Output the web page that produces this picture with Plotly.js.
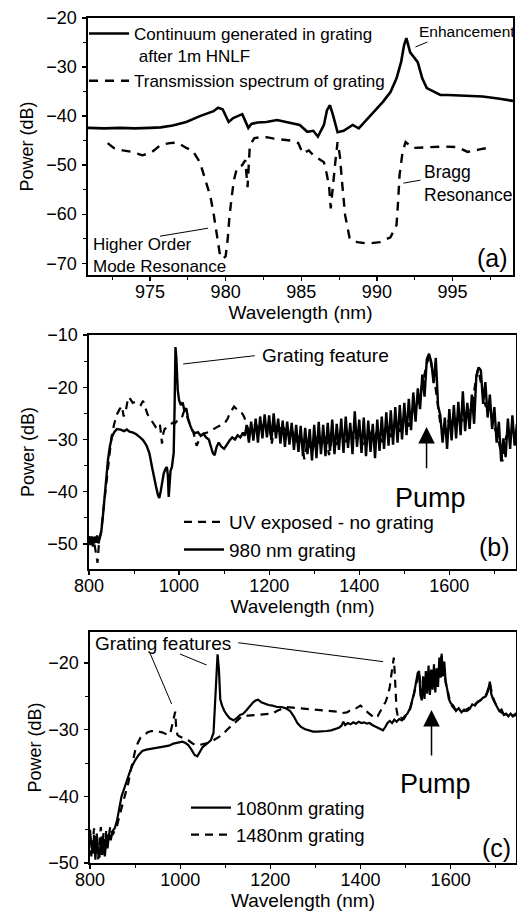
<!DOCTYPE html>
<html>
<head>
<meta charset="utf-8">
<script src="https://cdn.plot.ly/plotly-3.0.1.min.js"></script>
<style>html,body{margin:0;padding:0;background:#fff;}#chart{width:517px;height:913px;}</style>
</head>
<body>
<div id="chart"></div>
<script>
// ---------- Panel (a) ----------
var a_wl_cont = [970.9,972,973,974,975,975.7,976.5,977.4,978.3,979.2,
979.5,979.8,980.2,980.5,980.8,981.1,981.5,981.7,982.1,982.7,
983.4,984.3,984.9,985.4,985.8,986.1,986.5,986.7,986.9,987.1,
987.4,987.8,988.4,988.8,989.4,990,990.4,990.9,991.3,991.6,
991.8,991.95,992.2,992.7,993,993.3,993.7,994.2,994.7,995.5,
996.3,997,998,999];
var a_pow_cont = [-42.4,-42.5,-42.4,-42.5,-42.4,-42.3,-41.9,-41.2,-40.0,-39.0,
-38.3,-38.6,-41.2,-40.4,-40.0,-39.6,-42.4,-41.6,-41.3,-41.2,
-40.8,-41.4,-41.8,-43.2,-43.0,-44.2,-41.8,-38.8,-37.8,-39.8,
-43.3,-43.0,-41.8,-42.5,-40.4,-38.4,-37.1,-35.1,-32.3,-29.0,
-25.5,-24.1,-27.0,-29.0,-32.3,-34.3,-35.0,-35.7,-35.7,-35.8,
-36.0,-36.0,-36.4,-36.9];
var a_wl_trans = [972.2,972.6,973.2,973.8,974.5,975.1,975.7,976.3,976.8,977.4,
977.8,978.3,978.6,979.0,979.2,979.45,979.65,979.85,980.0,980.15,
980.25,980.4,980.55,980.75,981.1,981.3,981.45,981.6,981.9,982.3,
982.7,983.2,983.8,984.3,984.8,985.1,985.5,985.8,986.1,986.5,
986.7,986.85,986.95,987.1,987.25,987.4,987.55,987.7,987.9,988.2,
988.7,989.4,990.2,990.9,991.3,991.4,991.5,991.7,991.9,992.4,
993.3,994.4,995.3,996,996.8,997.3];
var a_pow_trans = [-45.5,-46.5,-47.0,-47.3,-48.0,-47.4,-45.9,-45.5,-45.4,-46.5,
-47.0,-49.4,-52.4,-56.5,-59.8,-64.7,-68.8,-69.0,-68.6,-64.7,
-60.6,-56.5,-53.0,-50.6,-50.0,-49.0,-54.5,-46.0,-44.5,-44.3,
-44.3,-44.6,-44.9,-45.0,-45.5,-47.6,-47.0,-48.0,-48.6,-49.4,
-52.0,-54.7,-58.8,-53.6,-49.4,-45.3,-48.0,-53.5,-60.2,-64.9,
-65.7,-66.0,-65.7,-64.7,-62.2,-57.6,-52.0,-47.3,-45.3,-46.5,
-46.3,-46.2,-46.3,-47.3,-46.8,-46.5];

// ---------- Panel (b) ----------
var b_wl_uv = [800,806,812,816,819,822,827,832,838,844,
850,856,862,868,873,877,882,887,892,897,
903,909,915,920,925,930,936,942,948,953,
957,960,962,965,968,974,980,986,991,996,
1001,1006,1010,1013,1017,1021,1026,1031,1035,1039,
1043,1050,1057,1065,1073,1080,1087,1094,1101,1108,
1113,1117,1122,1128,1134,1140,1145,1150,1155,
1160,1170,1180,1190,1200,1206,1212,1220,1230,1240,
1250,1260,1270,1278,1286,1295,1305,1315,1325,1333,
1340,1350,1360,1370,1380,1390,1400,1410,1420,1430,
1440,1450,1460,1470,1480,1490,1500,1510,1520,1530,
1540,1550,1556,1562,1570,1580,1590,1600,1610,1620,
1630,1640,1650,1658,1664,1672,1680,1690,1700,1710,
1718,1726,1735,1745];
var b_pow_uv = [-49.5,-48.6,-50.0,-52.0,-53.6,-50.0,-47.5,-43.5,-38.5,-33.5,
-29.5,-27.0,-25.2,-24.2,-23.6,-25.6,-24.4,-21.9,-22.3,-23.0,
-22.8,-22.9,-23.4,-22.6,-24.0,-25.2,-26.0,-26.8,-27.6,-27.2,
-26.9,-29.0,-30.8,-28.8,-28.0,-27.6,-27.2,-26.8,-26.9,-26.4,
-26.2,-25.9,-24.8,-24.4,-25.5,-26.6,-27.6,-28.4,-30.1,-31.2,
-30.4,-29.2,-28.8,-28.6,-28.2,-27.8,-27.5,-27.2,-26.9,-26.0,
-24.8,-24.4,-23.7,-24.2,-24.8,-25.0,-25.8,-27.2,-28.4,
-28.0,-27.0,-28.5,-26.8,-27.5,-30.8,-27.0,-28.5,-27.2,-29.0,
-28.0,-30.5,-29.0,-33.8,-30.0,-32.5,-29.5,-31.5,-29.0,-33.0,
-29.5,-31.0,-28.5,-30.5,-28.0,-30.0,-28.5,-31.5,-28.0,-30.0,
-28.5,-30.5,-27.5,-29.5,-26.5,-28.5,-25.5,-27.5,-24.0,-23.0,
-19.5,-15.5,-13.8,-16.5,-20.5,-27.0,-28.5,-26.0,-27.5,-25.0,
-26.5,-24.5,-24.0,-19.0,-16.5,-20.0,-23.5,-24.5,-27.5,-30.5,
-34.2,-29.5,-28.0,-29.0];
var b_wl_980 = [800,803,806,809,812,815,818,821,824,827,
830,834,838,842,846,851,856,862,870,878,
884,890,898,905,912,920,928,934,940,945,
949,953,956,959,962,966,970,973,975,977,
979,981,984,986,988,990,992,994,997,
1000,1004,1008,1012,1016,1020,1025,1030,1036,1042,
1048,1054,1060,1066,1070,1075,1079,1083,1088,1094,
1100,1106,1112,1118,1124,1130,1136,1142,1146,
1150,1155,1160,1165,1170,1175,1180,1185,1190,1195,
1200,1205,1210,1215,1220,1225,1230,1235,1240,1245,
1250,1255,1260,1265,1270,1275,1280,1285,1290,1295,
1300,1305,1310,1315,1320,1325,1330,1335,1340,1345,
1350,1355,1360,1365,1370,1375,1380,1385,1390,1395,
1400,1405,1410,1415,1420,1425,1430,1435,1440,1445,
1450,1455,1460,1465,1470,1475,1480,1485,1490,1495,
1500,1505,1510,1515,1520,1525,1530,1535,1540,1545,
1550,1555,1560,1565,1570,1575,1580,1585,1590,1595,
1600,1605,1610,1615,1620,1625,1630,1635,1640,1645,
1650,1655,1660,1665,1670,1675,1680,1685,1690,1695,
1700,1705,1710,1715,1720,1725,1730,1735,1740,1745,
1750];
var b_pow_980 = [-48.5,-50.2,-48.8,-50.5,-48.6,-49.8,-48.4,-49.9,-48.7,-47.8,
-45.5,-41.5,-37.5,-34.0,-31.5,-29.5,-28.6,-28.0,-28.1,-28.4,
-28.1,-28.5,-28.7,-29.0,-29.5,-30.1,-31.2,-32.6,-35.3,-37.8,
-39.1,-40.6,-41.2,-40.0,-38.3,-36.5,-35.6,-35.3,-36.8,-41.0,
-38.5,-36.0,-35.3,-34.2,-32.6,-24.0,-12.3,-14.5,-20.5,
-22.5,-23.4,-22.9,-24.6,-24.0,-26.0,-27.4,-28.4,-28.8,-28.6,
-29.3,-28.9,-29.6,-30.0,-31.2,-32.6,-33.0,-31.5,-30.6,-31.4,
-31.8,-30.9,-30.2,-29.6,-30.0,-29.2,-29.6,-28.7,-29.3,
-27.2,-30.6,-26.6,-30.2,-26.0,-30.6,-25.6,-29.8,-25.2,-29.6,
-25.4,-30.2,-25.0,-29.8,-26.0,-30.8,-26.4,-31.4,-26.6,-31.0,
-26.8,-32.0,-27.2,-32.4,-27.4,-33.2,-27.8,-32.8,-28.0,-34.0,
-27.2,-33.6,-26.6,-32.8,-27.2,-33.2,-26.8,-32.2,-26.2,-32.8,
-27.0,-32.0,-26.0,-32.6,-25.6,-31.6,-26.8,-32.8,-24.6,-31.4,
-26.2,-32.6,-25.8,-33.2,-26.4,-32.4,-27.0,-33.6,-26.2,-32.2,
-25.6,-31.8,-24.8,-31.2,-24.4,-31.0,-23.8,-30.6,-23.4,-30.0,
-23.0,-29.2,-22.2,-28.2,-21.0,-26.6,-20.2,-24.2,-17.6,-21.8,
-14.6,-13.6,-15.2,-19.2,-14.4,-23.6,-25.4,-30.6,-25.8,-31.8,
-24.2,-30.2,-23.4,-29.8,-22.8,-29.2,-20.8,-28.4,-23.0,-28.0,
-21.4,-27.0,-17.8,-16.2,-16.8,-23.2,-19.0,-25.8,-21.4,-28.0,
-23.8,-30.6,-26.6,-34.2,-29.8,-33.4,-26.0,-31.8,-25.4,-31.2,
-27.0];

// ---------- Panel (c) ----------
var c_wl_1080 = [800,803,806,809,812,815,818,821,824,827,
830,833,836,839,842,846,850,855,860,865,
870,876,882,888,894,900,908,916,925,935,
945,955,965,975,985,995,1005,1012,1018,1025,
1032,1038,1044,1050,1056,1062,1068,1074,1077,1080,
1083,1086,1089,1093,1098,1104,1110,1118,1125,1133,
1140,1148,1155,1162,1168,1173,1180,1188,1196,1205,
1215,1225,1235,1244,1252,1260,1268,1276,1285,1295,
1305,1315,1325,1335,1345,1352,1358,1362,1366,1372,
1378,1384,1390,1396,1402,1408,1414,1420,1426,1432,
1438,1444,1450,1455,1460,1465,1470,1475,1480,1486,
1492,1498,1504,1510,1515,1519,1523,1527,1530,1533,
1536,1539,1542,1545,1548,1551,1554,1557,1560,1563,
1566,1569,1572,1575,1578,1580,1583,1586,1589,1592,
1596,1600,1606,1612,1618,1624,1630,1636,1642,1648,
1654,1660,1666,1672,1678,1683,1687,1690,1694,1698,
1703,1708,1713,1718,1723,1728,1733,1738,1744,1750];
var c_pow_1080 = [-45.0,-47.5,-48.6,-45.8,-49.5,-46.0,-48.2,-49.2,-46.5,-48.8,
-47.2,-49.0,-46.4,-47.8,-45.6,-46.6,-45.2,-44.8,-43.6,-41.8,
-40.0,-38.8,-37.4,-36.4,-35.4,-34.6,-33.8,-33.2,-33.0,-32.9,
-32.8,-32.7,-32.5,-32.4,-32.1,-32.0,-31.8,-32.0,-32.3,-33.0,
-33.8,-34.0,-33.4,-32.6,-32.3,-32.0,-31.6,-30.5,-26.5,-21.5,
-18.7,-21.0,-25.5,-26.4,-27.2,-27.8,-28.3,-28.6,-28.3,-27.8,
-27.6,-27.0,-26.4,-25.9,-25.6,-25.5,-25.9,-26.1,-26.3,-26.4,
-26.6,-26.6,-26.8,-27.2,-28.0,-29.0,-29.6,-29.9,-30.1,-30.3,
-30.3,-30.3,-30.2,-30.1,-29.9,-29.7,-29.4,-28.8,-29.3,-29.0,
-29.2,-28.9,-29.1,-28.8,-29.0,-28.9,-29.1,-29.0,-29.3,-29.5,
-29.6,-29.8,-30.1,-29.6,-29.0,-28.7,-29.0,-28.5,-28.8,-28.4,
-28.6,-28.0,-27.6,-26.8,-25.5,-24.5,-23.0,-21.5,-21.2,-24.8,
-25.6,-22.0,-25.4,-21.2,-24.6,-20.4,-24.8,-21.0,-24.0,-20.2,
-24.4,-20.8,-23.6,-19.2,-22.2,-18.6,-22.0,-19.8,-23.0,-23.8,
-25.4,-26.0,-26.4,-27.2,-26.8,-27.4,-27.0,-27.2,-26.9,-26.2,
-26.4,-25.8,-25.6,-25.2,-25.0,-24.2,-22.8,-24.6,-25.4,-26.0,
-26.6,-27.2,-27.0,-27.8,-27.6,-28.0,-27.6,-28.0,-27.6,-27.7];
var c_wl_1480 = [800,803,806,809,812,815,818,821,824,827,
830,833,836,840,845,850,855,860,865,870,
875,880,885,890,895,900,906,912,920,928,
936,944,952,960,968,974,978,982,986,989,
991,994,998,1004,1010,1018,1026,1033,1042,1051,
1061,1071,1082,1093,1104,1115,1126,1137,1150,1166,
1185,1203,1218,1233,1250,1270,1290,1310,1330,1350,
1360,1370,1380,1390,1400,1408,1416,1424,1432,1438,
1444,1450,1456,1461,1465,1468,1471,1474,1476,1478,
1480,1484,1490,1496,1502,1510,1515,1520,1525,1530,
1535,1540,1545,1550,1555,1560,1565,1570,1575,1580,
1585,1590,1595,1600,1610,1620,1630,1640,1650,1660,
1670,1680,1687,1693,1700,1710,1720,1730,1740,1750];
var c_pow_1480 = [-46.0,-49.0,-47.2,-44.8,-48.0,-45.6,-49.5,-47.0,-44.6,-47.4,
-45.5,-48.5,-45.0,-46.8,-44.5,-45.8,-45.0,-44.4,-43.0,-41.8,
-40.6,-39.4,-38.0,-36.2,-34.4,-33.2,-32.0,-31.2,-30.8,-30.4,
-30.2,-30.2,-30.3,-30.4,-30.6,-30.8,-30.6,-29.2,-28.2,-27.3,
-29.5,-30.8,-31.0,-31.2,-31.3,-31.6,-32.0,-32.3,-32.3,-32.2,
-32.0,-31.7,-31.3,-30.8,-30.0,-29.3,-28.6,-28.0,-27.9,-27.8,
-27.7,-27.6,-27.1,-26.6,-26.7,-26.8,-27.0,-27.1,-27.2,-27.3,
-27.5,-27.4,-27.0,-26.8,-26.4,-26.8,-27.4,-27.9,-28.3,-28.0,
-27.2,-26.5,-25.8,-24.8,-23.6,-22.0,-20.2,-19.2,-21.5,-24.5,
-27.0,-28.4,-28.2,-28.4,-27.8,-26.9,-25.7,-24.3,-22.6,-21.4,
-24.5,-22.8,-24.0,-21.5,-23.4,-21.0,-22.5,-21.8,-20.0,-19.0,
-21.5,-23.0,-25.0,-26.2,-27.0,-27.0,-27.2,-26.8,-26.3,-25.9,
-25.4,-24.6,-23.0,-25.0,-26.2,-27.3,-27.7,-27.8,-27.9,-27.7];

// ---------- Ticks ----------
var a_xticks = [975, 980, 985, 990, 995];
var a_yticks = [-70, -60, -50, -40, -30, -20];
var bc_xticks = [800, 1000, 1200, 1400, 1600];
var b_yticks = [-50, -40, -30, -20, -10];
var c_yticks = [-50, -40, -30, -20];

var FONT = 'Liberation Sans, Arial, Helvetica, sans-serif';
var W = 517, H = 913;
function px(x) { return x / W; }
function py(y) { return 1 - y / H; }

var traces = [
  {x: a_wl_cont, y: a_pow_cont, xaxis: 'x', yaxis: 'y', mode: 'lines', name: 'Continuum generated in grating<br>&nbsp;after 1m HNLF',
   line: {color: '#000', width: 2.6}, legend: 'legend'},
  {x: a_wl_trans, y: a_pow_trans, xaxis: 'x', yaxis: 'y', mode: 'lines', name: 'Transmission spectrum of grating',
   line: {color: '#000', width: 2.4, dash: '9px,7px'}, legend: 'legend'},
  {x: b_wl_uv, y: b_pow_uv, xaxis: 'x2', yaxis: 'y2', mode: 'lines', name: 'UV exposed - no grating',
   line: {color: '#000', width: 2.2, dash: '8px,6px'}, legend: 'legend2'},
  {x: b_wl_980, y: b_pow_980, xaxis: 'x2', yaxis: 'y2', mode: 'lines', name: '980 nm grating',
   line: {color: '#000', width: 2.4}, legend: 'legend2'},
  {x: c_wl_1080, y: c_pow_1080, xaxis: 'x3', yaxis: 'y3', mode: 'lines', name: '1080nm grating',
   line: {color: '#000', width: 2.2}, legend: 'legend3'},
  {x: c_wl_1480, y: c_pow_1480, xaxis: 'x3', yaxis: 'y3', mode: 'lines', name: '1480nm grating',
   line: {color: '#000', width: 2.2, dash: '8px,6px'}, legend: 'legend3'}
];

function xax(domain, range, tickvals, minorD, title, anchor, tstand) {
  return {domain: domain, range: range, anchor: anchor, tickmode: 'array', tickvals: tickvals,
    ticks: 'outside', ticklen: 4, tickwidth: 1.3, tickcolor: '#000',
    showline: true, linewidth: 1.6, linecolor: '#000', mirror: true,
    showgrid: false, zeroline: false, automargin: false,
    tickfont: {family: FONT, size: 18, color: '#000'}, ticklabelstandoff: -4,
    minor: {dtick: minorD, ticks: 'outside', ticklen: 3, tickwidth: 1, tickcolor: '#000', showgrid: false},
    title: {text: title, font: {family: FONT, size: 19, color: '#000'}, standoff: tstand}};
}
function yax(domain, range, tickvals, anchor, tstand) {
  return {domain: domain, range: range, anchor: anchor, tickmode: 'array', tickvals: tickvals,
    ticks: 'outside', ticklen: 4, tickwidth: 1.3, tickcolor: '#000',
    showline: true, linewidth: 1.6, linecolor: '#000', mirror: true,
    showgrid: false, zeroline: false, automargin: false,
    tickfont: {family: FONT, size: 18, color: '#000'}, ticklabelstandoff: 2,
    minor: {dtick: 5, ticks: 'outside', ticklen: 3, tickwidth: 1, tickcolor: '#000', showgrid: false},
    title: {text: 'Power (dB)', font: {family: FONT, size: 18, color: '#000'}, standoff: tstand}};
}
function topAx(over, anchor, range, tickvals, minorD) {
  return {overlaying: over, anchor: anchor, side: 'top', range: range, tickmode: 'array', tickvals: tickvals,
    ticks: 'inside', ticklen: 5, tickwidth: 1.3, tickcolor: '#000', showticklabels: false,
    showline: false, showgrid: false, zeroline: false,
    minor: {dtick: minorD, ticks: 'inside', ticklen: 3, tickwidth: 1, tickcolor: '#000', showgrid: false}};
}
function rightAx(over, anchor, range, tickvals) {
  return {overlaying: over, anchor: anchor, side: 'right', range: range, tickmode: 'array', tickvals: tickvals,
    ticks: 'inside', ticklen: 5, tickwidth: 1.3, tickcolor: '#000', showticklabels: false,
    showline: false, showgrid: false, zeroline: false,
    minor: {dtick: 5, ticks: 'inside', ticklen: 3, tickwidth: 1, tickcolor: '#000', showgrid: false}};
}

var aXR = [970.9, 999.0], aYR = [-72.4, -20];
var bXR = [800, 1748], bYR = [-54.8, -10];
var cXR = [800, 1745], cYR = [-50, -15.35];

var legendBase = {xanchor: 'left', yanchor: 'top', bgcolor: 'rgba(0,0,0,0)', borderwidth: 0,
  tracegroupgap: 0, valign: 'top', itemwidth: 40, itemclick: false, itemdoubleclick: false};

var layout = {
  width: W, height: H,
  margin: {l: 0, r: 0, t: 0, b: 0},
  paper_bgcolor: '#fff', plot_bgcolor: '#fff',
  font: {family: FONT, size: 18, color: '#000'},
  showlegend: true,
  xaxis: xax([px(88), px(513)], aXR, a_xticks, 2.5, 'Wavelength (nm)', 'y', 2),
  yaxis: yax([py(275), py(18)], aYR, a_yticks, 'x', 8),
  xaxis2: xax([px(89), px(516)], bXR, bc_xticks, 100, 'Wavelength (nm)', 'y2', 2),
  yaxis2: yax([py(569), py(335)], bYR, b_yticks, 'x2', 8),
  xaxis3: xax([px(90), px(516)], cXR, bc_xticks, 100, 'Wavelength (nm)', 'y3', 0),
  yaxis3: yax([py(863), py(632)], cYR, c_yticks, 'x3', 2),
  xaxis4: topAx('x', 'y', aXR, a_xticks, 2.5),
  yaxis4: rightAx('y', 'x', aYR, a_yticks),
  xaxis5: topAx('x2', 'y2', bXR, bc_xticks, 100),
  yaxis5: rightAx('y2', 'x2', bYR, b_yticks),
  xaxis6: topAx('x3', 'y3', cXR, bc_xticks, 100),
  yaxis6: rightAx('y3', 'x3', cYR, c_yticks),
  legend: Object.assign({}, legendBase, {x: px(84), y: py(16), font: {family: FONT, size: 17, color: '#000'}}),
  legend2: Object.assign({}, legendBase, {x: px(179), y: py(503), font: {family: FONT, size: 19, color: '#000'}}),
  legend3: Object.assign({}, legendBase, {x: px(186), y: py(789), font: {family: FONT, size: 18.5, color: '#000'}}),
  shapes: [
    // pointer lines (a)
    {type: 'line', xref: 'x', yref: 'y', x0: 993.34, y0: -24.9, x1: 992.55, y1: -25.9, line: {color: '#000', width: 1}},
    {type: 'line', xref: 'x', yref: 'y', x0: 992.88, y0: -53.06, x1: 991.75, y1: -53.67, line: {color: '#000', width: 1}},
    {type: 'line', xref: 'x', yref: 'y', x0: 975.66, y0: -64.49, x1: 978.84, y1: -62.86, line: {color: '#000', width: 1}},
    // pointer line (b)
    {type: 'line', xref: 'x2', yref: 'y2', x0: 1168, y0: -13.96, x1: 1009.1, y1: -15.55, line: {color: '#000', width: 1}},
    // pointer lines (c)
    {type: 'line', xref: 'x3', yref: 'y3', x0: 933, y0: -18.5, x1: 981.1, y1: -26.15, line: {color: '#000', width: 1}},
    {type: 'line', xref: 'x3', yref: 'y3', x0: 999.6, y0: -18.65, x1: 1058.7, y1: -20.3, line: {color: '#000', width: 1}},
    {type: 'line', xref: 'x3', yref: 'y3', x0: 1128.8, y0: -16.96, x1: 1450.3, y1: -19.8, line: {color: '#000', width: 1}}
  ],
  annotations: [
    {xref: 'x', yref: 'y', x: 992.68, y: -22.76, text: 'Enhancement', showarrow: false, xanchor: 'left', yanchor: 'middle', font: {family: FONT, size: 15.5, color: '#000'}},
    {xref: 'x', yref: 'y', x: 993.0, y: -53.67, text: 'Bragg<br>Resonance', align: 'left', showarrow: false, xanchor: 'left', yanchor: 'middle', font: {family: FONT, size: 17.5, color: '#000'}},
    {xref: 'x', yref: 'y', x: 971.1, y: -68.47, text: 'Higher Order<br>Mode Resonance', align: 'left', showarrow: false, xanchor: 'left', yanchor: 'middle', font: {family: FONT, size: 17, color: '#000'}},
    {xref: 'x', yref: 'y', x: 996.5, y: -68.98, text: '(a)', showarrow: false, xanchor: 'left', yanchor: 'middle', font: {family: FONT, size: 25, color: '#000'}},
    {xref: 'x2', yref: 'y2', x: 1179.2, y: -13.83, text: 'Grating feature', showarrow: false, xanchor: 'left', yanchor: 'middle', font: {family: FONT, size: 19, color: '#000'}},
    {xref: 'x2', yref: 'y2', x: 1476, y: -41.3, text: 'Pump', showarrow: false, xanchor: 'left', yanchor: 'middle', font: {family: FONT, size: 27, color: '#000'}},
    {xref: 'x2', yref: 'y2', x: 1549.4, y: -27.6, axref: 'x2', ayref: 'y2', ax: 1549.4, ay: -35.8, text: '', showarrow: true, arrowhead: 2, arrowsize: 2.2, arrowwidth: 1.5, arrowcolor: '#000'},
    {xref: 'x2', yref: 'y2', x: 1660.3, y: -50.57, text: '(b)', showarrow: false, xanchor: 'left', yanchor: 'middle', font: {family: FONT, size: 25, color: '#000'}},
    {xref: 'x3', yref: 'y3', x: 806.7, y: -17.0, text: 'Grating features', showarrow: false, xanchor: 'left', yanchor: 'middle', font: {family: FONT, size: 19, color: '#000'}},
    {xref: 'x3', yref: 'y3', x: 1484, y: -38.1, text: 'Pump', showarrow: false, xanchor: 'left', yanchor: 'middle', font: {family: FONT, size: 27, color: '#000'}},
    {xref: 'x3', yref: 'y3', x: 1557.6, y: -27.05, axref: 'x3', ayref: 'y3', ax: 1557.6, ay: -34.1, text: '', showarrow: true, arrowhead: 2, arrowsize: 2.2, arrowwidth: 1.5, arrowcolor: '#000'},
    {xref: 'x3', yref: 'y3', x: 1664.7, y: -47.74, text: '(c)', showarrow: false, xanchor: 'left', yanchor: 'middle', font: {family: FONT, size: 25, color: '#000'}}
  ]
};

Plotly.newPlot('chart', traces, layout, {staticPlot: true, displayModeBar: false});
</script>
</body>
</html>
